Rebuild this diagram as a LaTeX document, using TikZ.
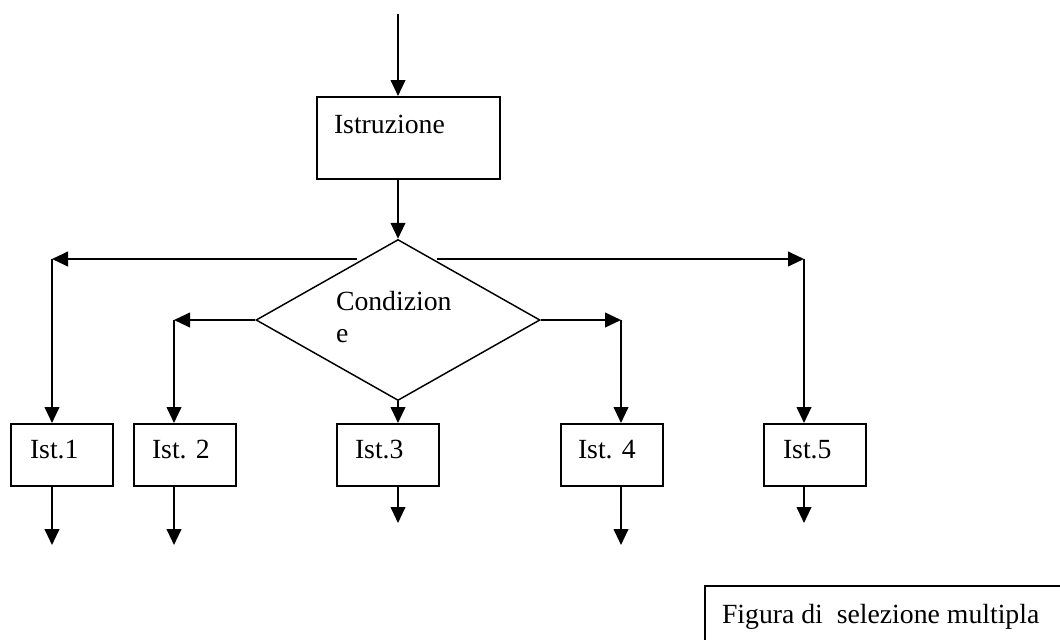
\documentclass[tikz,border=0pt]{standalone}
\usepackage{fontspec}
\setmainfont{Liberation Serif}
\usetikzlibrary{arrows.meta,shapes.geometric,calc}
\begin{document}
\begin{tikzpicture}[x=0.75pt,y=-0.75pt,
  line width=1.5pt,
  arr/.style={-{Triangle[length=12pt,width=11pt]}},
  box/.style={draw, rectangle, inner sep=0pt, line width=1.5pt, anchor=north west},
  istbox/.style={box, minimum width=76.5pt, minimum height=46.5pt},
  txt/.style={anchor=base west, inner sep=0pt, font=\fontsize{20.8}{25}\selectfont},
]
\useasboundingbox (0,0) rectangle (1060,639);
\clip (0,0) rectangle (1060,639);

% nodes
\node[box, minimum width=137.25pt, minimum height=61.5pt] (instr) at (316,96) {};
\node[draw, diamond, inner sep=0pt, line width=1.1pt, minimum width=213pt, minimum height=120.75pt] (cond) at (398,320) {};
\node[istbox] (ist1) at (10,423) {};
\node[istbox] (ist2) at (133,423) {};
\node[istbox] (ist3) at (336,423) {};
\node[istbox] (ist4) at (560,423) {};
\node[istbox] (ist5) at (763,423) {};
\node[box, line width=1.2pt, minimum width=300pt, minimum height=75pt] (caption) at (704,585) {};

% texts
\node[txt] (tinstr) at (333,133) {Istruzione};
\node[txt] (tcond1) at (335,310) {Condizion};
\node[txt] (tcond2) at (335,342) {e};
\node[txt] (t1) at (29,458) {Ist.1};
\node[txt] (t2) at (151,458) {Ist. 2};
\node[txt] (t3) at (354,458) {Ist.3};
\node[txt] (t4) at (577,458) {Ist. 4};
\node[txt] (t5) at (782,458) {Ist.5};
\node[txt] (tcap) at (721,623) {Figura di~ selezione multipla};

% coordinates
\coordinate (top) at (398,14);
\coordinate (tl) at (357,259);
\coordinate (tr) at (437,259);
\coordinate (c1) at (52,259);
\coordinate (c5) at (804,259);
\coordinate (c2) at (174,320);
\coordinate (c4) at (621,320);
\coordinate (e1) at (52,545);
\coordinate (e2) at (174,545);
\coordinate (e3) at (398,523);
\coordinate (e4) at (621,545);
\coordinate (e5) at (804,523);

% connectors
\draw[arr] (top) -- (top |- instr.north);
\draw[arr] (instr.south -| top) -- (cond.north);
\draw[arr] (tl) -- (c1);
\draw[arr] (c1) -- (c1 |- ist1.north);
\draw[arr] (tr) -- (c5);
\draw[arr] (c5) -- (c5 |- ist5.north);
\draw[arr] (cond.west) -- (c2);
\draw[arr] (c2) -- (c2 |- ist2.north);
\draw[arr] (cond.east) -- (c4);
\draw[arr] (c4) -- (c4 |- ist4.north);
\draw[arr] (cond.south) -- (cond.south |- ist3.north);
\draw[arr] (ist1.south -| e1) -- (e1);
\draw[arr] (ist2.south -| e2) -- (e2);
\draw[arr] (ist3.south -| e3) -- (e3);
\draw[arr] (ist4.south -| e4) -- (e4);
\draw[arr] (ist5.south -| e5) -- (e5);
\end{tikzpicture}
\end{document}
